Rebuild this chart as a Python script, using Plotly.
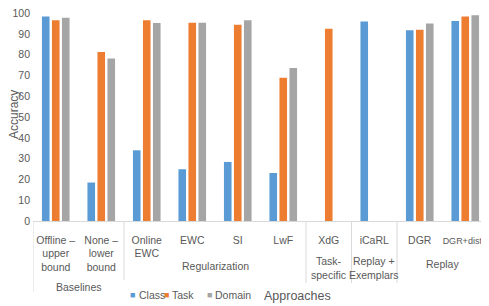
import plotly.graph_objects as go

categories = ["Offline –<br>upper<br>bound", "None –<br>lower<br>bound", "Online<br>EWC", "EWC", "SI",
              "LwF", "XdG", "iCaRL", "DGR", "<span style='font-size:9px'>DGR+distill</span>"]
groups = ["Baselines", "Regularization", "Task-<br>specific", "Replay +<br>Exemplars", "Replay"]
group_spans = [(0, 1), (2, 5), (6, 6), (7, 7), (8, 9)]
y_ticks = [0, 10, 20, 30, 40, 50, 60, 70, 80, 90, 100]

class_acc = [98.4, 18.5, 34.0, 24.9, 28.4, 23.1, None, 95.9, 91.7, 96.2]
task_acc = [96.6, 81.3, 96.5, 95.4, 94.4, 68.9, 92.5, None, 92.0, 98.4]
domain_acc = [97.7, 78.2, 95.2, 95.4, 96.5, 73.6, None, None, 95.0, 98.9]

series = [("Class", class_acc, "#5B9BD5"), ("Task", task_acc, "#ED7D31"), ("Domain", domain_acc, "#A5A5A5")]

FONT = "Liberation Sans, Arial, sans-serif"
TXT = "#595959"
FS = 10.5

# the page body has an 8px margin; figure sized so it fits the 489x306 window
OFF = 8
W, H = 489 - OFF, 306 - OFF
YMAX = 101
plot_left, plot_right, plot_top, plot_bottom = 33, 488, 221 - 2.08 * YMAX, 221  # window pixels
ml = plot_left - OFF
mt = plot_top - OFF
mr = max(W - (plot_right - OFF), 0)
mb = H - (plot_bottom - OFF)
pw = W - ml - mr
ph = H - mt - mb


def py(pix):
    return (plot_bottom - pix) / ph


def px(pix):
    return (pix - plot_left) / pw


xs = list(range(len(categories)))
fig = go.Figure()
for name, vals, col in series:
    fig.add_trace(go.Bar(x=xs, y=vals, name=name, marker=dict(color=col, line=dict(width=0)),
                         showlegend=False))

fig.update_layout(
    width=W, height=H,
    margin=dict(l=ml, r=mr, t=mt, b=mb, autoexpand=False),
    paper_bgcolor="white", plot_bgcolor="white",
    barmode="group", bargap=0.34, bargroupgap=0.24,
    font=dict(family=FONT, size=FS, color=TXT),
    xaxis=dict(range=[-0.5, 9.5], tickvals=xs, ticktext=categories, showgrid=False, zeroline=False,
               showline=True, linecolor="#D9D9D9", linewidth=1, ticks="", ticklabelstandoff=9,
               ticklabeloverflow="allow", automargin=False,
               tickfont=dict(family=FONT, size=FS, color=TXT)),
    yaxis=dict(range=[0, YMAX], tickvals=y_ticks, showgrid=False, zeroline=False, showline=False, ticks="",
               ticklabeloverflow="allow", automargin=False,
               tickfont=dict(family=FONT, size=FS, color=TXT), ticklabelstandoff=2),
)

fig.add_annotation(x=px(14), y=py(115), xref="paper", yref="paper", text="Accuracy", showarrow=False,
                   textangle=-90, xanchor="center", yanchor="middle",
                   font=dict(family=FONT, size=12, color=TXT))

group_y = [287, 266, 268, 268, 264]
for (a, b), g, gy in zip(group_spans, groups, group_y):
    fig.add_annotation(x=(a + b) / 2, y=py(gy), xref="x", yref="paper", text=g, showarrow=False,
                       xanchor="center", yanchor="middle", font=dict(family=FONT, size=FS, color=TXT))

dividers = [(-0.5, 292), (1.5, 280), (5.5, 283), (6.5, 283), (7.5, 283)]
for dx, end in dividers:
    fig.add_shape(type="line", xref="x", yref="paper", x0=dx, x1=dx, y0=py(222), y1=py(end),
                  line=dict(color="#D9D9D9", width=1))

marker_x = [128, 162, 205]
text_x = [137, 170, 213]
for (name, _, col), mx, tx in zip(series, marker_x, text_x):
    fig.add_annotation(x=px(mx), y=py(295), xref="paper", yref="paper", text="■",
                       showarrow=False, xanchor="left", yanchor="middle",
                       font=dict(family=FONT, size=9, color=col))
    fig.add_annotation(x=px(tx), y=py(295), xref="paper", yref="paper", text=name,
                       showarrow=False, xanchor="left", yanchor="middle",
                       font=dict(family=FONT, size=FS, color=TXT))
fig.add_annotation(x=px(262), y=py(296), xref="paper", yref="paper", text="Approaches",
                   showarrow=False, xanchor="left", yanchor="middle", font=dict(family=FONT, size=12.5, color=TXT))

fig.write_html("out.html")
